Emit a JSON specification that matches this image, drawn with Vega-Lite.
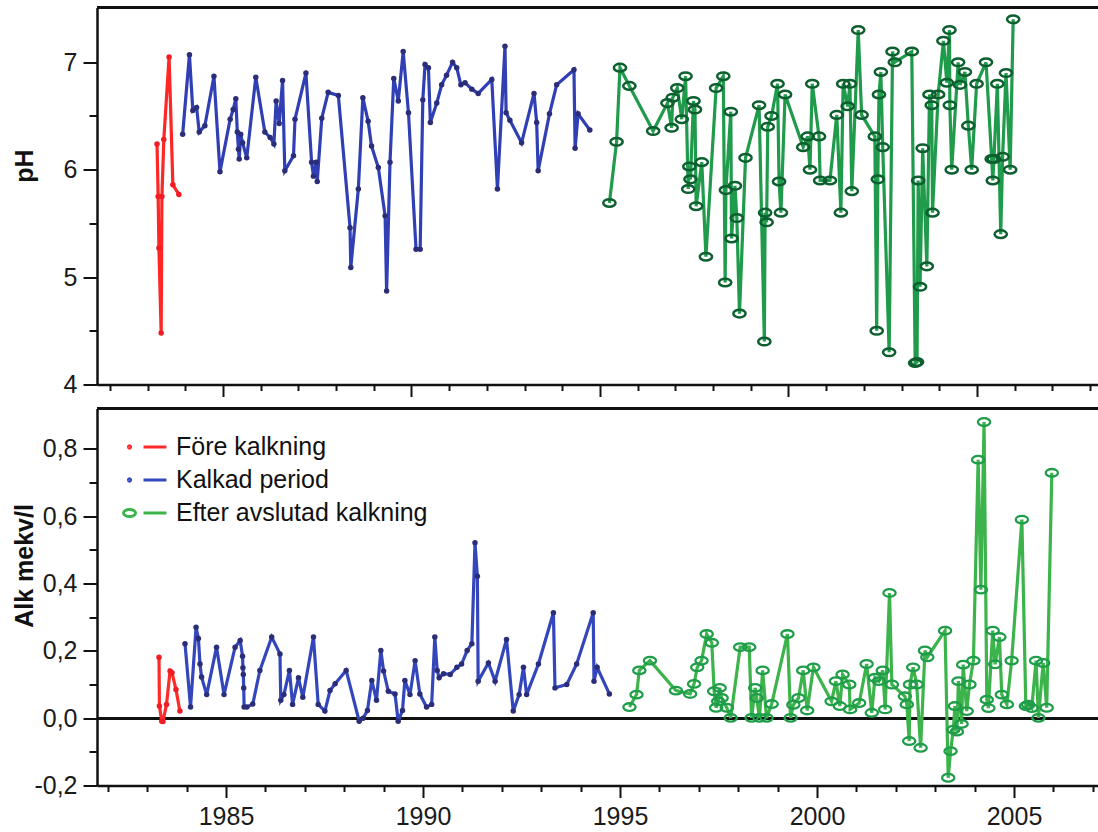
{
  "$schema": "https://vega.github.io/schema/vega-lite/v6.json",
  "background": "white",
  "padding": {"left": 12, "top": 5.5, "right": 0, "bottom": 2},
  "spacing": 9,
  "config": {
    "font": "Liberation Sans",
    "view": {"stroke": null},
    "axis": {"grid": false, "labelFont": "Liberation Sans", "titleFont": "Liberation Sans", "labelColor": "#1a1a1a", "titleColor": "#111111", "tickColor": "#111111", "domainColor": "#111111"}
  },
  "datasets": {
    "ph": [
      {"date": 1983.25, "value": 6.24, "period": "Före kalkning"},
      {"date": 1983.28, "value": 5.75, "period": "Före kalkning"},
      {"date": 1983.30, "value": 5.27, "period": "Före kalkning"},
      {"date": 1983.36, "value": 4.48, "period": "Före kalkning"},
      {"date": 1983.38, "value": 5.75, "period": "Före kalkning"},
      {"date": 1983.43, "value": 6.28, "period": "Före kalkning"},
      {"date": 1983.57, "value": 7.05, "period": "Före kalkning"},
      {"date": 1983.67, "value": 5.86, "period": "Före kalkning"},
      {"date": 1983.83, "value": 5.77, "period": "Före kalkning"},
      {"date": 1983.93, "value": 6.33, "period": "Kalkad period"},
      {"date": 1984.11, "value": 7.07, "period": "Kalkad period"},
      {"date": 1984.20, "value": 6.55, "period": "Kalkad period"},
      {"date": 1984.30, "value": 6.58, "period": "Kalkad period"},
      {"date": 1984.37, "value": 6.35, "period": "Kalkad period"},
      {"date": 1984.52, "value": 6.41, "period": "Kalkad period"},
      {"date": 1984.76, "value": 6.87, "period": "Kalkad period"},
      {"date": 1984.92, "value": 5.98, "period": "Kalkad period"},
      {"date": 1985.19, "value": 6.47, "period": "Kalkad period"},
      {"date": 1985.27, "value": 6.56, "period": "Kalkad period"},
      {"date": 1985.34, "value": 6.66, "period": "Kalkad period"},
      {"date": 1985.38, "value": 6.35, "period": "Kalkad period"},
      {"date": 1985.41, "value": 6.19, "period": "Kalkad period"},
      {"date": 1985.43, "value": 6.10, "period": "Kalkad period"},
      {"date": 1985.47, "value": 6.33, "period": "Kalkad period"},
      {"date": 1985.52, "value": 6.25, "period": "Kalkad period"},
      {"date": 1985.63, "value": 6.11, "period": "Kalkad period"},
      {"date": 1985.87, "value": 6.86, "period": "Kalkad period"},
      {"date": 1986.11, "value": 6.35, "period": "Kalkad period"},
      {"date": 1986.25, "value": 6.30, "period": "Kalkad period"},
      {"date": 1986.35, "value": 6.24, "period": "Kalkad period"},
      {"date": 1986.41, "value": 6.64, "period": "Kalkad period"},
      {"date": 1986.49, "value": 6.43, "period": "Kalkad period"},
      {"date": 1986.58, "value": 6.83, "period": "Kalkad period"},
      {"date": 1986.64, "value": 5.99, "period": "Kalkad period"},
      {"date": 1986.87, "value": 6.13, "period": "Kalkad period"},
      {"date": 1986.91, "value": 6.47, "period": "Kalkad period"},
      {"date": 1987.20, "value": 6.90, "period": "Kalkad period"},
      {"date": 1987.35, "value": 6.07, "period": "Kalkad period"},
      {"date": 1987.40, "value": 5.94, "period": "Kalkad period"},
      {"date": 1987.47, "value": 6.07, "period": "Kalkad period"},
      {"date": 1987.50, "value": 5.89, "period": "Kalkad period"},
      {"date": 1987.62, "value": 6.48, "period": "Kalkad period"},
      {"date": 1987.79, "value": 6.72, "period": "Kalkad period"},
      {"date": 1988.06, "value": 6.69, "period": "Kalkad period"},
      {"date": 1988.37, "value": 5.46, "period": "Kalkad period"},
      {"date": 1988.39, "value": 5.09, "period": "Kalkad period"},
      {"date": 1988.59, "value": 5.82, "period": "Kalkad period"},
      {"date": 1988.71, "value": 6.67, "period": "Kalkad period"},
      {"date": 1988.85, "value": 6.45, "period": "Kalkad period"},
      {"date": 1988.94, "value": 6.22, "period": "Kalkad period"},
      {"date": 1989.12, "value": 6.02, "period": "Kalkad period"},
      {"date": 1989.30, "value": 5.57, "period": "Kalkad period"},
      {"date": 1989.34, "value": 4.87, "period": "Kalkad period"},
      {"date": 1989.43, "value": 6.07, "period": "Kalkad period"},
      {"date": 1989.53, "value": 6.85, "period": "Kalkad period"},
      {"date": 1989.65, "value": 6.64, "period": "Kalkad period"},
      {"date": 1989.78, "value": 7.10, "period": "Kalkad period"},
      {"date": 1989.92, "value": 6.53, "period": "Kalkad period"},
      {"date": 1990.12, "value": 5.26, "period": "Kalkad period"},
      {"date": 1990.23, "value": 5.26, "period": "Kalkad period"},
      {"date": 1990.30, "value": 6.65, "period": "Kalkad period"},
      {"date": 1990.36, "value": 6.98, "period": "Kalkad period"},
      {"date": 1990.45, "value": 6.95, "period": "Kalkad period"},
      {"date": 1990.50, "value": 6.44, "period": "Kalkad period"},
      {"date": 1990.67, "value": 6.62, "period": "Kalkad period"},
      {"date": 1990.80, "value": 6.79, "period": "Kalkad period"},
      {"date": 1990.93, "value": 6.88, "period": "Kalkad period"},
      {"date": 1991.09, "value": 7.00, "period": "Kalkad period"},
      {"date": 1991.20, "value": 6.95, "period": "Kalkad period"},
      {"date": 1991.31, "value": 6.79, "period": "Kalkad period"},
      {"date": 1991.42, "value": 6.81, "period": "Kalkad period"},
      {"date": 1991.60, "value": 6.75, "period": "Kalkad period"},
      {"date": 1991.77, "value": 6.71, "period": "Kalkad period"},
      {"date": 1992.13, "value": 6.84, "period": "Kalkad period"},
      {"date": 1992.28, "value": 5.82, "period": "Kalkad period"},
      {"date": 1992.48, "value": 7.15, "period": "Kalkad period"},
      {"date": 1992.51, "value": 6.53, "period": "Kalkad period"},
      {"date": 1992.61, "value": 6.46, "period": "Kalkad period"},
      {"date": 1992.92, "value": 6.25, "period": "Kalkad period"},
      {"date": 1993.25, "value": 6.71, "period": "Kalkad period"},
      {"date": 1993.32, "value": 6.44, "period": "Kalkad period"},
      {"date": 1993.36, "value": 5.99, "period": "Kalkad period"},
      {"date": 1993.66, "value": 6.52, "period": "Kalkad period"},
      {"date": 1993.85, "value": 6.79, "period": "Kalkad period"},
      {"date": 1994.31, "value": 6.93, "period": "Kalkad period"},
      {"date": 1994.34, "value": 6.20, "period": "Kalkad period"},
      {"date": 1994.42, "value": 6.52, "period": "Kalkad period"},
      {"date": 1994.73, "value": 6.37, "period": "Kalkad period"},
      {"date": 1995.25, "value": 5.69, "period": "Efter avslutad kalkning"},
      {"date": 1995.44, "value": 6.26, "period": "Efter avslutad kalkning"},
      {"date": 1995.53, "value": 6.95, "period": "Efter avslutad kalkning"},
      {"date": 1995.78, "value": 6.78, "period": "Efter avslutad kalkning"},
      {"date": 1996.41, "value": 6.36, "period": "Efter avslutad kalkning"},
      {"date": 1996.79, "value": 6.62, "period": "Efter avslutad kalkning"},
      {"date": 1996.90, "value": 6.39, "period": "Efter avslutad kalkning"},
      {"date": 1996.93, "value": 6.67, "period": "Efter avslutad kalkning"},
      {"date": 1997.05, "value": 6.76, "period": "Efter avslutad kalkning"},
      {"date": 1997.17, "value": 6.47, "period": "Efter avslutad kalkning"},
      {"date": 1997.27, "value": 6.87, "period": "Efter avslutad kalkning"},
      {"date": 1997.34, "value": 5.82, "period": "Efter avslutad kalkning"},
      {"date": 1997.37, "value": 6.03, "period": "Efter avslutad kalkning"},
      {"date": 1997.40, "value": 5.91, "period": "Efter avslutad kalkning"},
      {"date": 1997.48, "value": 6.64, "period": "Efter avslutad kalkning"},
      {"date": 1997.52, "value": 6.56, "period": "Efter avslutad kalkning"},
      {"date": 1997.55, "value": 5.66, "period": "Efter avslutad kalkning"},
      {"date": 1997.70, "value": 6.07, "period": "Efter avslutad kalkning"},
      {"date": 1997.81, "value": 5.19, "period": "Efter avslutad kalkning"},
      {"date": 1998.08, "value": 6.76, "period": "Efter avslutad kalkning"},
      {"date": 1998.27, "value": 6.87, "period": "Efter avslutad kalkning"},
      {"date": 1998.32, "value": 4.95, "period": "Efter avslutad kalkning"},
      {"date": 1998.34, "value": 5.81, "period": "Efter avslutad kalkning"},
      {"date": 1998.47, "value": 6.54, "period": "Efter avslutad kalkning"},
      {"date": 1998.49, "value": 5.36, "period": "Efter avslutad kalkning"},
      {"date": 1998.58, "value": 5.85, "period": "Efter avslutad kalkning"},
      {"date": 1998.63, "value": 5.55, "period": "Efter avslutad kalkning"},
      {"date": 1998.70, "value": 4.66, "period": "Efter avslutad kalkning"},
      {"date": 1998.86, "value": 6.11, "period": "Efter avslutad kalkning"},
      {"date": 1999.22, "value": 6.60, "period": "Efter avslutad kalkning"},
      {"date": 1999.36, "value": 4.40, "period": "Efter avslutad kalkning"},
      {"date": 1999.38, "value": 5.60, "period": "Efter avslutad kalkning"},
      {"date": 1999.42, "value": 5.51, "period": "Efter avslutad kalkning"},
      {"date": 1999.45, "value": 6.40, "period": "Efter avslutad kalkning"},
      {"date": 1999.55, "value": 6.50, "period": "Efter avslutad kalkning"},
      {"date": 1999.71, "value": 6.80, "period": "Efter avslutad kalkning"},
      {"date": 1999.75, "value": 5.89, "period": "Efter avslutad kalkning"},
      {"date": 1999.80, "value": 5.60, "period": "Efter avslutad kalkning"},
      {"date": 1999.91, "value": 6.70, "period": "Efter avslutad kalkning"},
      {"date": 2000.39, "value": 6.21, "period": "Efter avslutad kalkning"},
      {"date": 2000.51, "value": 6.31, "period": "Efter avslutad kalkning"},
      {"date": 2000.57, "value": 6.00, "period": "Efter avslutad kalkning"},
      {"date": 2000.63, "value": 6.80, "period": "Efter avslutad kalkning"},
      {"date": 2000.81, "value": 6.31, "period": "Efter avslutad kalkning"},
      {"date": 2000.84, "value": 5.90, "period": "Efter avslutad kalkning"},
      {"date": 2001.10, "value": 5.90, "period": "Efter avslutad kalkning"},
      {"date": 2001.28, "value": 6.51, "period": "Efter avslutad kalkning"},
      {"date": 2001.39, "value": 5.60, "period": "Efter avslutad kalkning"},
      {"date": 2001.45, "value": 6.80, "period": "Efter avslutad kalkning"},
      {"date": 2001.57, "value": 6.59, "period": "Efter avslutad kalkning"},
      {"date": 2001.63, "value": 6.80, "period": "Efter avslutad kalkning"},
      {"date": 2001.68, "value": 5.80, "period": "Efter avslutad kalkning"},
      {"date": 2001.85, "value": 7.30, "period": "Efter avslutad kalkning"},
      {"date": 2001.94, "value": 6.51, "period": "Efter avslutad kalkning"},
      {"date": 2002.29, "value": 6.31, "period": "Efter avslutad kalkning"},
      {"date": 2002.34, "value": 4.50, "period": "Efter avslutad kalkning"},
      {"date": 2002.37, "value": 5.91, "period": "Efter avslutad kalkning"},
      {"date": 2002.40, "value": 6.70, "period": "Efter avslutad kalkning"},
      {"date": 2002.45, "value": 6.91, "period": "Efter avslutad kalkning"},
      {"date": 2002.50, "value": 6.21, "period": "Efter avslutad kalkning"},
      {"date": 2002.67, "value": 4.30, "period": "Efter avslutad kalkning"},
      {"date": 2002.76, "value": 7.10, "period": "Efter avslutad kalkning"},
      {"date": 2002.82, "value": 7.00, "period": "Efter avslutad kalkning"},
      {"date": 2003.27, "value": 7.10, "period": "Efter avslutad kalkning"},
      {"date": 2003.36, "value": 4.20, "period": "Efter avslutad kalkning"},
      {"date": 2003.41, "value": 4.21, "period": "Efter avslutad kalkning"},
      {"date": 2003.44, "value": 5.90, "period": "Efter avslutad kalkning"},
      {"date": 2003.49, "value": 4.91, "period": "Efter avslutad kalkning"},
      {"date": 2003.56, "value": 6.20, "period": "Efter avslutad kalkning"},
      {"date": 2003.67, "value": 5.10, "period": "Efter avslutad kalkning"},
      {"date": 2003.74, "value": 6.70, "period": "Efter avslutad kalkning"},
      {"date": 2003.80, "value": 6.60, "period": "Efter avslutad kalkning"},
      {"date": 2003.82, "value": 5.60, "period": "Efter avslutad kalkning"},
      {"date": 2003.97, "value": 6.70, "period": "Efter avslutad kalkning"},
      {"date": 2004.11, "value": 7.20, "period": "Efter avslutad kalkning"},
      {"date": 2004.20, "value": 6.81, "period": "Efter avslutad kalkning"},
      {"date": 2004.27, "value": 7.30, "period": "Efter avslutad kalkning"},
      {"date": 2004.28, "value": 6.60, "period": "Efter avslutad kalkning"},
      {"date": 2004.33, "value": 6.00, "period": "Efter avslutad kalkning"},
      {"date": 2004.50, "value": 7.00, "period": "Efter avslutad kalkning"},
      {"date": 2004.55, "value": 6.79, "period": "Efter avslutad kalkning"},
      {"date": 2004.68, "value": 6.91, "period": "Efter avslutad kalkning"},
      {"date": 2004.77, "value": 6.41, "period": "Efter avslutad kalkning"},
      {"date": 2004.86, "value": 6.00, "period": "Efter avslutad kalkning"},
      {"date": 2004.99, "value": 6.80, "period": "Efter avslutad kalkning"},
      {"date": 2005.24, "value": 7.00, "period": "Efter avslutad kalkning"},
      {"date": 2005.39, "value": 6.10, "period": "Efter avslutad kalkning"},
      {"date": 2005.42, "value": 5.90, "period": "Efter avslutad kalkning"},
      {"date": 2005.45, "value": 6.10, "period": "Efter avslutad kalkning"},
      {"date": 2005.54, "value": 6.80, "period": "Efter avslutad kalkning"},
      {"date": 2005.63, "value": 5.40, "period": "Efter avslutad kalkning"},
      {"date": 2005.68, "value": 6.12, "period": "Efter avslutad kalkning"},
      {"date": 2005.77, "value": 6.90, "period": "Efter avslutad kalkning"},
      {"date": 2005.88, "value": 6.00, "period": "Efter avslutad kalkning"},
      {"date": 2005.96, "value": 7.40, "period": "Efter avslutad kalkning"}
    ],
    "alk": [
      {"date": 1983.30, "value": 0.181, "period": "Före kalkning"},
      {"date": 1983.31, "value": 0.036, "period": "Före kalkning"},
      {"date": 1983.37, "value": -0.009, "period": "Före kalkning"},
      {"date": 1983.40, "value": -0.010, "period": "Före kalkning"},
      {"date": 1983.49, "value": 0.041, "period": "Före kalkning"},
      {"date": 1983.58, "value": 0.140, "period": "Före kalkning"},
      {"date": 1983.63, "value": 0.135, "period": "Före kalkning"},
      {"date": 1983.73, "value": 0.085, "period": "Före kalkning"},
      {"date": 1983.83, "value": 0.021, "period": "Före kalkning"},
      {"date": 1983.96, "value": 0.221, "period": "Kalkad period"},
      {"date": 1984.10, "value": 0.033, "period": "Kalkad period"},
      {"date": 1984.24, "value": 0.270, "period": "Kalkad period"},
      {"date": 1984.30, "value": 0.237, "period": "Kalkad period"},
      {"date": 1984.34, "value": 0.161, "period": "Kalkad period"},
      {"date": 1984.38, "value": 0.122, "period": "Kalkad period"},
      {"date": 1984.51, "value": 0.070, "period": "Kalkad period"},
      {"date": 1984.76, "value": 0.211, "period": "Kalkad period"},
      {"date": 1984.95, "value": 0.070, "period": "Kalkad period"},
      {"date": 1985.23, "value": 0.211, "period": "Kalkad period"},
      {"date": 1985.36, "value": 0.231, "period": "Kalkad period"},
      {"date": 1985.42, "value": 0.184, "period": "Kalkad period"},
      {"date": 1985.43, "value": 0.150, "period": "Kalkad period"},
      {"date": 1985.44, "value": 0.130, "period": "Kalkad period"},
      {"date": 1985.45, "value": 0.090, "period": "Kalkad period"},
      {"date": 1985.46, "value": 0.033, "period": "Kalkad period"},
      {"date": 1985.53, "value": 0.033, "period": "Kalkad period"},
      {"date": 1985.68, "value": 0.042, "period": "Kalkad period"},
      {"date": 1985.86, "value": 0.142, "period": "Kalkad period"},
      {"date": 1986.16, "value": 0.241, "period": "Kalkad period"},
      {"date": 1986.37, "value": 0.191, "period": "Kalkad period"},
      {"date": 1986.39, "value": 0.053, "period": "Kalkad period"},
      {"date": 1986.47, "value": 0.070, "period": "Kalkad period"},
      {"date": 1986.61, "value": 0.142, "period": "Kalkad period"},
      {"date": 1986.69, "value": 0.041, "period": "Kalkad period"},
      {"date": 1986.84, "value": 0.120, "period": "Kalkad period"},
      {"date": 1986.95, "value": 0.062, "period": "Kalkad period"},
      {"date": 1987.22, "value": 0.241, "period": "Kalkad period"},
      {"date": 1987.34, "value": 0.041, "period": "Kalkad period"},
      {"date": 1987.51, "value": 0.021, "period": "Kalkad period"},
      {"date": 1987.64, "value": 0.082, "period": "Kalkad period"},
      {"date": 1987.77, "value": 0.102, "period": "Kalkad period"},
      {"date": 1988.05, "value": 0.142, "period": "Kalkad period"},
      {"date": 1988.38, "value": -0.009, "period": "Kalkad period"},
      {"date": 1988.48, "value": 0.000, "period": "Kalkad period"},
      {"date": 1988.59, "value": 0.023, "period": "Kalkad period"},
      {"date": 1988.70, "value": 0.112, "period": "Kalkad period"},
      {"date": 1988.82, "value": 0.053, "period": "Kalkad period"},
      {"date": 1988.93, "value": 0.201, "period": "Kalkad period"},
      {"date": 1989.00, "value": 0.140, "period": "Kalkad period"},
      {"date": 1989.12, "value": 0.080, "period": "Kalkad period"},
      {"date": 1989.29, "value": 0.072, "period": "Kalkad period"},
      {"date": 1989.37, "value": -0.009, "period": "Kalkad period"},
      {"date": 1989.48, "value": 0.023, "period": "Kalkad period"},
      {"date": 1989.54, "value": 0.112, "period": "Kalkad period"},
      {"date": 1989.67, "value": 0.070, "period": "Kalkad period"},
      {"date": 1989.80, "value": 0.171, "period": "Kalkad period"},
      {"date": 1989.92, "value": 0.072, "period": "Kalkad period"},
      {"date": 1990.09, "value": 0.033, "period": "Kalkad period"},
      {"date": 1990.22, "value": 0.041, "period": "Kalkad period"},
      {"date": 1990.30, "value": 0.241, "period": "Kalkad period"},
      {"date": 1990.36, "value": 0.142, "period": "Kalkad period"},
      {"date": 1990.41, "value": 0.120, "period": "Kalkad period"},
      {"date": 1990.52, "value": 0.132, "period": "Kalkad period"},
      {"date": 1990.69, "value": 0.130, "period": "Kalkad period"},
      {"date": 1990.86, "value": 0.151, "period": "Kalkad period"},
      {"date": 1990.98, "value": 0.161, "period": "Kalkad period"},
      {"date": 1991.12, "value": 0.201, "period": "Kalkad period"},
      {"date": 1991.24, "value": 0.221, "period": "Kalkad period"},
      {"date": 1991.32, "value": 0.521, "period": "Kalkad period"},
      {"date": 1991.38, "value": 0.422, "period": "Kalkad period"},
      {"date": 1991.40, "value": 0.110, "period": "Kalkad period"},
      {"date": 1991.66, "value": 0.164, "period": "Kalkad period"},
      {"date": 1991.83, "value": 0.110, "period": "Kalkad period"},
      {"date": 1992.12, "value": 0.234, "period": "Kalkad period"},
      {"date": 1992.29, "value": 0.021, "period": "Kalkad period"},
      {"date": 1992.44, "value": 0.070, "period": "Kalkad period"},
      {"date": 1992.55, "value": 0.151, "period": "Kalkad period"},
      {"date": 1992.63, "value": 0.070, "period": "Kalkad period"},
      {"date": 1992.93, "value": 0.161, "period": "Kalkad period"},
      {"date": 1993.31, "value": 0.313, "period": "Kalkad period"},
      {"date": 1993.35, "value": 0.090, "period": "Kalkad period"},
      {"date": 1993.65, "value": 0.100, "period": "Kalkad period"},
      {"date": 1993.90, "value": 0.161, "period": "Kalkad period"},
      {"date": 1994.32, "value": 0.313, "period": "Kalkad period"},
      {"date": 1994.34, "value": 0.110, "period": "Kalkad period"},
      {"date": 1994.42, "value": 0.151, "period": "Kalkad period"},
      {"date": 1994.73, "value": 0.072, "period": "Kalkad period"},
      {"date": 1995.24, "value": 0.033, "period": "Efter avslutad kalkning"},
      {"date": 1995.42, "value": 0.070, "period": "Efter avslutad kalkning"},
      {"date": 1995.49, "value": 0.142, "period": "Efter avslutad kalkning"},
      {"date": 1995.76, "value": 0.171, "period": "Efter avslutad kalkning"},
      {"date": 1996.42, "value": 0.082, "period": "Efter avslutad kalkning"},
      {"date": 1996.78, "value": 0.072, "period": "Efter avslutad kalkning"},
      {"date": 1996.88, "value": 0.102, "period": "Efter avslutad kalkning"},
      {"date": 1996.96, "value": 0.151, "period": "Efter avslutad kalkning"},
      {"date": 1997.07, "value": 0.171, "period": "Efter avslutad kalkning"},
      {"date": 1997.20, "value": 0.250, "period": "Efter avslutad kalkning"},
      {"date": 1997.33, "value": 0.224, "period": "Efter avslutad kalkning"},
      {"date": 1997.39, "value": 0.080, "period": "Efter avslutad kalkning"},
      {"date": 1997.44, "value": 0.031, "period": "Efter avslutad kalkning"},
      {"date": 1997.49, "value": 0.050, "period": "Efter avslutad kalkning"},
      {"date": 1997.53, "value": 0.090, "period": "Efter avslutad kalkning"},
      {"date": 1997.58, "value": 0.060, "period": "Efter avslutad kalkning"},
      {"date": 1997.71, "value": 0.031, "period": "Efter avslutad kalkning"},
      {"date": 1997.81, "value": 0.001, "period": "Efter avslutad kalkning"},
      {"date": 1998.05, "value": 0.211, "period": "Efter avslutad kalkning"},
      {"date": 1998.28, "value": 0.211, "period": "Efter avslutad kalkning"},
      {"date": 1998.34, "value": 0.001, "period": "Efter avslutad kalkning"},
      {"date": 1998.43, "value": 0.090, "period": "Efter avslutad kalkning"},
      {"date": 1998.47, "value": 0.060, "period": "Efter avslutad kalkning"},
      {"date": 1998.54, "value": 0.001, "period": "Efter avslutad kalkning"},
      {"date": 1998.62, "value": 0.142, "period": "Efter avslutad kalkning"},
      {"date": 1998.72, "value": 0.001, "period": "Efter avslutad kalkning"},
      {"date": 1998.85, "value": 0.042, "period": "Efter avslutad kalkning"},
      {"date": 1999.25, "value": 0.250, "period": "Efter avslutad kalkning"},
      {"date": 1999.33, "value": 0.001, "period": "Efter avslutad kalkning"},
      {"date": 1999.40, "value": 0.040, "period": "Efter avslutad kalkning"},
      {"date": 1999.53, "value": 0.060, "period": "Efter avslutad kalkning"},
      {"date": 1999.65, "value": 0.142, "period": "Efter avslutad kalkning"},
      {"date": 1999.75, "value": 0.023, "period": "Efter avslutad kalkning"},
      {"date": 1999.91, "value": 0.151, "period": "Efter avslutad kalkning"},
      {"date": 2000.37, "value": 0.050, "period": "Efter avslutad kalkning"},
      {"date": 2000.48, "value": 0.110, "period": "Efter avslutad kalkning"},
      {"date": 2000.58, "value": 0.036, "period": "Efter avslutad kalkning"},
      {"date": 2000.65, "value": 0.130, "period": "Efter avslutad kalkning"},
      {"date": 2000.82, "value": 0.100, "period": "Efter avslutad kalkning"},
      {"date": 2000.84, "value": 0.026, "period": "Efter avslutad kalkning"},
      {"date": 2001.07, "value": 0.045, "period": "Efter avslutad kalkning"},
      {"date": 2001.26, "value": 0.161, "period": "Efter avslutad kalkning"},
      {"date": 2001.39, "value": 0.016, "period": "Efter avslutad kalkning"},
      {"date": 2001.47, "value": 0.120, "period": "Efter avslutad kalkning"},
      {"date": 2001.57, "value": 0.110, "period": "Efter avslutad kalkning"},
      {"date": 2001.67, "value": 0.142, "period": "Efter avslutad kalkning"},
      {"date": 2001.73, "value": 0.026, "period": "Efter avslutad kalkning"},
      {"date": 2001.84, "value": 0.372, "period": "Efter avslutad kalkning"},
      {"date": 2001.90, "value": 0.100, "period": "Efter avslutad kalkning"},
      {"date": 2002.23, "value": 0.065, "period": "Efter avslutad kalkning"},
      {"date": 2002.28, "value": 0.041, "period": "Efter avslutad kalkning"},
      {"date": 2002.34, "value": -0.068, "period": "Efter avslutad kalkning"},
      {"date": 2002.36, "value": 0.100, "period": "Efter avslutad kalkning"},
      {"date": 2002.44, "value": 0.151, "period": "Efter avslutad kalkning"},
      {"date": 2002.53, "value": 0.100, "period": "Efter avslutad kalkning"},
      {"date": 2002.63, "value": -0.088, "period": "Efter avslutad kalkning"},
      {"date": 2002.74, "value": 0.201, "period": "Efter avslutad kalkning"},
      {"date": 2002.80, "value": 0.181, "period": "Efter avslutad kalkning"},
      {"date": 2003.25, "value": 0.260, "period": "Efter avslutad kalkning"},
      {"date": 2003.33, "value": -0.177, "period": "Efter avslutad kalkning"},
      {"date": 2003.39, "value": -0.098, "period": "Efter avslutad kalkning"},
      {"date": 2003.46, "value": -0.034, "period": "Efter avslutad kalkning"},
      {"date": 2003.50, "value": 0.036, "period": "Efter avslutad kalkning"},
      {"date": 2003.55, "value": -0.040, "period": "Efter avslutad kalkning"},
      {"date": 2003.59, "value": 0.110, "period": "Efter avslutad kalkning"},
      {"date": 2003.67, "value": -0.017, "period": "Efter avslutad kalkning"},
      {"date": 2003.71, "value": 0.159, "period": "Efter avslutad kalkning"},
      {"date": 2003.80, "value": 0.021, "period": "Efter avslutad kalkning"},
      {"date": 2003.87, "value": 0.100, "period": "Efter avslutad kalkning"},
      {"date": 2003.97, "value": 0.171, "period": "Efter avslutad kalkning"},
      {"date": 2004.09, "value": 0.768, "period": "Efter avslutad kalkning"},
      {"date": 2004.16, "value": 0.382, "period": "Efter avslutad kalkning"},
      {"date": 2004.24, "value": 0.880, "period": "Efter avslutad kalkning"},
      {"date": 2004.31, "value": 0.055, "period": "Efter avslutad kalkning"},
      {"date": 2004.35, "value": 0.030, "period": "Efter avslutad kalkning"},
      {"date": 2004.46, "value": 0.260, "period": "Efter avslutad kalkning"},
      {"date": 2004.52, "value": 0.160, "period": "Efter avslutad kalkning"},
      {"date": 2004.63, "value": 0.241, "period": "Efter avslutad kalkning"},
      {"date": 2004.69, "value": 0.070, "period": "Efter avslutad kalkning"},
      {"date": 2004.82, "value": 0.041, "period": "Efter avslutad kalkning"},
      {"date": 2004.94, "value": 0.171, "period": "Efter avslutad kalkning"},
      {"date": 2005.20, "value": 0.590, "period": "Efter avslutad kalkning"},
      {"date": 2005.30, "value": 0.036, "period": "Efter avslutad kalkning"},
      {"date": 2005.36, "value": 0.040, "period": "Efter avslutad kalkning"},
      {"date": 2005.45, "value": 0.030, "period": "Efter avslutad kalkning"},
      {"date": 2005.56, "value": 0.171, "period": "Efter avslutad kalkning"},
      {"date": 2005.62, "value": 0.001, "period": "Efter avslutad kalkning"},
      {"date": 2005.74, "value": 0.164, "period": "Efter avslutad kalkning"},
      {"date": 2005.83, "value": 0.031, "period": "Efter avslutad kalkning"},
      {"date": 2005.96, "value": 0.729, "period": "Efter avslutad kalkning"}
    ]
  },
  "resolve": {"scale": {"color": "independent", "fill": "independent"}},
  "vconcat": [
    {
      "width": 1001,
      "height": 377,
      "data": {"name": "ph"},
      "resolve": {"axis": {"x": "independent", "y": "independent"}},
      "layer": [
        {
          "mark": {"type": "rule", "color": "#111111", "strokeWidth": 2.5},
          "encoding": {"y": {"datum": 7.51, "type": "quantitative", "axis": null}}
        },
        {
          "mark": {"type": "line", "strokeWidth": 3.2},
          "encoding": {
            "x": {"field": "date", "type": "quantitative", "scale": {"domain": [1981.658, 2008.21], "nice": false, "zero": false},
                  "axis": {"orient": "bottom", "values": [1985, 1990, 1995, 2000, 2005], "labels": false, "title": null, "tickSize": 12, "tickWidth": 2, "domainWidth": 2.5}},
            "y": {"field": "value", "type": "quantitative", "scale": {"domain": [4, 7.51], "nice": false, "zero": false},
                  "axis": {"orient": "left", "values": [4, 5, 6, 7], "format": "d", "title": "pH", "titleFontSize": 25, "titleFontWeight": "bold", "titleX": -60, "titleY": 158, "labelFontSize": 25, "labelPadding": 6, "labelFlush": false, "labelOverlap": false, "tickSize": 14, "tickWidth": 2, "domainWidth": 2.5}},
            "color": {"field": "period", "type": "nominal", "legend": null,
                      "scale": {"domain": ["Före kalkning", "Kalkad period", "Efter avslutad kalkning"], "range": ["#ff2626", "#3040b4", "#1f9b4b"]}}
          }
        },
        {
          "transform": [{"filter": "datum.period !== 'Efter avslutad kalkning'"}],
          "mark": {"type": "point", "filled": true, "size": 30, "opacity": 1, "strokeWidth": 0},
          "encoding": {
            "x": {"field": "date", "type": "quantitative",
                  "axis": {"orient": "bottom", "values": [1982, 1983, 1984, 1986, 1987, 1988, 1989, 1991, 1992, 1993, 1994, 1996, 1997, 1998, 1999, 2001, 2002, 2003, 2004, 2006, 2007, 2008], "labels": false, "title": null, "domain": false, "tickSize": 6, "tickWidth": 2}},
            "y": {"field": "value", "type": "quantitative",
                  "axis": {"orient": "left", "values": [4.5, 5.5, 6.5], "labels": false, "title": null, "domain": false, "tickSize": 8, "tickWidth": 2}},
            "fill": {"field": "period", "type": "nominal", "legend": null,
                     "scale": {"domain": ["Före kalkning", "Kalkad period"], "range": ["#f01c24", "#2b2d78"]}}
          }
        },
        {
          "transform": [{"filter": "datum.period === 'Efter avslutad kalkning'"}],
          "mark": {"type": "point", "shape": "M-1,0A1,0.62,0,1,0,1,0A1,0.62,0,1,0,-1,0Z", "filled": false, "size": 150, "strokeWidth": 2.5, "color": "#0e5f2f", "opacity": 1},
          "encoding": {
            "x": {"field": "date", "type": "quantitative", "axis": null},
            "y": {"field": "value", "type": "quantitative", "axis": null}
          }
        }
      ]
    },
    {
      "width": 1001,
      "height": 377,
      "data": {"name": "alk"},
      "resolve": {"axis": {"x": "independent", "y": "independent"}},
      "layer": [
        {
          "mark": {"type": "rule", "color": "#111111", "strokeWidth": 2.5},
          "encoding": {"y": {"datum": 0.92, "type": "quantitative", "axis": null}}
        },
        {
          "mark": {"type": "rule", "color": "#111111", "strokeWidth": 2},
          "encoding": {"y": {"datum": 0, "type": "quantitative", "axis": null}}
        },
        {
          "mark": {"type": "line", "strokeWidth": 3.2},
          "encoding": {
            "x": {"field": "date", "type": "quantitative", "scale": {"domain": [1981.726, 2007.132], "nice": false, "zero": false},
                  "axis": {"orient": "bottom", "values": [1985, 1990, 1995, 2000, 2005], "format": "d", "labelFontSize": 25, "labelPadding": 7, "title": null, "tickSize": 12, "tickWidth": 2, "domainWidth": 2.5, "labelFlush": false}},
            "y": {"field": "value", "type": "quantitative", "scale": {"domain": [-0.2, 0.92], "nice": false, "zero": false},
                  "axis": {"orient": "left", "values": [-0.2, 0, 0.2, 0.4, 0.6, 0.8], "labelExpr": "(datum.value < 0 ? '-' : '') + replace(format(abs(datum.value), '.1f'), '.', ',')", "title": "Alk mekv/l", "titleFontSize": 25, "titleFontWeight": "bold", "titleX": -60, "titleY": 157, "labelFontSize": 25, "labelPadding": 6, "labelFlush": false, "labelOverlap": false, "tickSize": 14, "tickWidth": 2, "domainWidth": 2.5}},
            "color": {"field": "period", "type": "nominal",
                      "scale": {"domain": ["Före kalkning", "Kalkad period", "Efter avslutad kalkning"], "range": ["#ff2a2a", "#3346bb", "#3cb44b"]},
                      "legend": {
                        "title": null, "orient": "none", "legendX": 33, "legendY": 22, "padding": 0,
                        "symbolSize": 900, "symbolStrokeWidth": 3, "symbolOpacity": 1,
                        "labelFontSize": 25, "labelFont": "Liberation Sans", "labelColor": "#111111", "labelOffset": 13, "labelLimit": 0, "rowPadding": 3,
                        "encoding": {
                          "symbols": {
                            "shape": {"condition": {"test": "datum.value === 'Efter avslutad kalkning'", "value": "M-1.53,0A0.4,0.24,0,1,0,-0.73,0A0.4,0.24,0,1,0,-1.53,0M-0.2,0L1.33,0"}, "value": "M-1.2,0A0.067,0.067,0,1,0,-1.067,0A0.067,0.067,0,1,0,-1.2,0M-0.2,0L1.33,0"},
                            "fill": {"value": "transparent"},
                            "stroke": {"condition": [{"test": "datum.value === 'Före kalkning'", "value": "#ff2a2a"}, {"test": "datum.value === 'Kalkad period'", "value": "#3346bb"}], "value": "#2fae4a"}
                          }
                        }
                      }}
          }
        },
        {
          "transform": [{"filter": "datum.period !== 'Efter avslutad kalkning'"}],
          "mark": {"type": "point", "filled": true, "size": 30, "opacity": 1, "strokeWidth": 0},
          "encoding": {
            "x": {"field": "date", "type": "quantitative",
                  "axis": {"orient": "bottom", "values": [1982, 1983, 1984, 1986, 1987, 1988, 1989, 1991, 1992, 1993, 1994, 1996, 1997, 1998, 1999, 2001, 2002, 2003, 2004, 2006, 2007], "labels": false, "title": null, "domain": false, "tickSize": 6, "tickWidth": 2}},
            "y": {"field": "value", "type": "quantitative",
                  "axis": {"orient": "left", "values": [-0.1, 0.1, 0.3, 0.5, 0.7], "labels": false, "title": null, "domain": false, "tickSize": 8, "tickWidth": 2}},
            "fill": {"field": "period", "type": "nominal", "legend": null,
                     "scale": {"domain": ["Före kalkning", "Kalkad period"], "range": ["#f01c24", "#2b2d78"]}}
          }
        },
        {
          "transform": [{"filter": "datum.period === 'Efter avslutad kalkning'"}],
          "mark": {"type": "point", "shape": "M-1,0A1,0.62,0,1,0,1,0A1,0.62,0,1,0,-1,0Z", "filled": false, "size": 150, "strokeWidth": 2.3, "color": "#1f9d4a", "opacity": 1},
          "encoding": {
            "x": {"field": "date", "type": "quantitative", "axis": null},
            "y": {"field": "value", "type": "quantitative", "axis": null}
          }
        }
      ]
    }
  ]
}
